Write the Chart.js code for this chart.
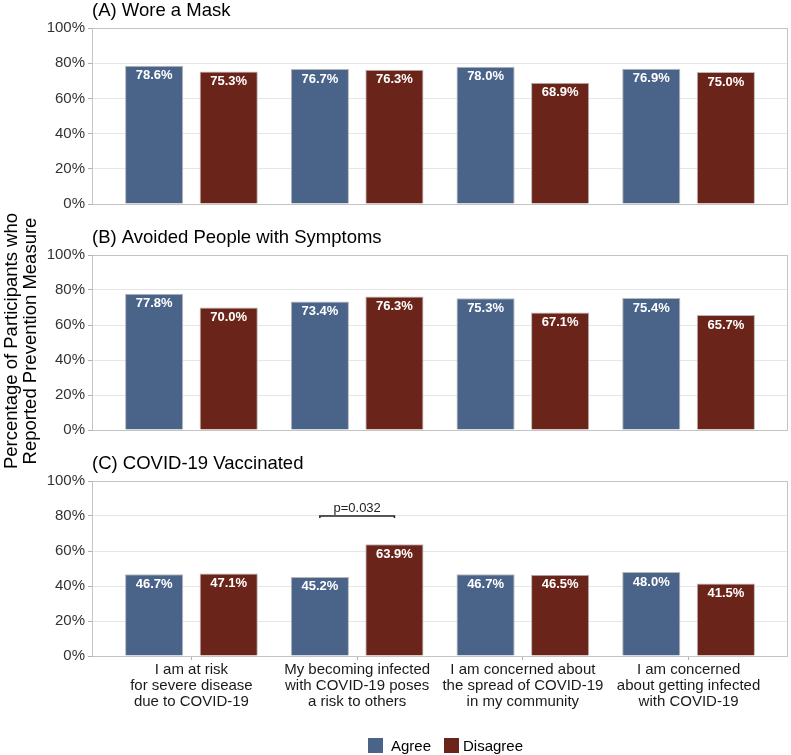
<!DOCTYPE html>
<html>
<head>
<meta charset="utf-8">
<script src="https://cdn.jsdelivr.net/npm/chart.js@4.4.0/dist/chart.umd.min.js"></script>
<style>
  body { margin: 0; background: #fff; font-family: "Liberation Sans", Arial, sans-serif; }
  #wrap { position: relative; width: 791px; height: 755px; overflow: hidden; }
  #wrap canvas { position: absolute; left: 0; }
  #ytitle {
    position: absolute; left: -180px; top: 322px; width: 400px; height: 38px;
    line-height: 19px; font-size: 18.5px; text-align: center; color: #000;
    transform: rotate(-90deg);
  }
  .key { position: absolute; top: 738px; width: 15px; height: 15px; }
  .keytext { position: absolute; top: 737px; font-size: 15px; line-height: 17px; color: #000; }
</style>
</head>
<body>
<div id="wrap">
  <canvas id="panelA" width="791" height="210" style="top:0px"></canvas>
  <canvas id="panelB" width="791" height="209" style="top:227px"></canvas>
  <canvas id="panelC" width="791" height="303" style="top:452px"></canvas>
  <div id="ytitle">Percentage of Participants who<br>Reported Prevention Measure</div>
  <div class="key" style="left:368px;background:#4a6389"></div>
  <div class="keytext" style="left:391px">Agree</div>
  <div class="key" style="left:444px;background:#6b2419"></div>
  <div class="keytext" style="left:463px">Disagree</div>
</div>
<script>
const categories = [
  ['I am at risk', 'for severe disease', 'due to COVID-19'],
  ['My becoming infected', 'with COVID-19 poses', 'a risk to others'],
  ['I am concerned about', 'the spread of COVID-19', 'in my community'],
  ['I am concerned', 'about getting infected', 'with COVID-19']
];
const seriesNames = ['Agree', 'Disagree'];
const seriesColors = ['#4a6389', '#6b2419'];
const panelTitles = ['(A) Wore a Mask', '(B) Avoided People with Symptoms', '(C) COVID-19 Vaccinated'];

const maskAgree = [78.6, 76.7, 78.0, 76.9];
const maskDisagree = [75.3, 76.3, 68.9, 75.0];
const avoidAgree = [77.8, 73.4, 75.3, 75.4];
const avoidDisagree = [70.0, 76.3, 67.1, 65.7];
const vaccAgree = [46.7, 45.2, 46.7, 48.0];
const vaccDisagree = [47.1, 63.9, 46.5, 41.5];

const yTicks = [0, 20, 40, 60, 80, 100];
const pValueText = 'p=0.032';
const pValueCategory = 1;
const pValueLevel = 80;

const FONT = '"Liberation Sans", Arial, sans-serif';

// frame, panel title, bar labels, p-value bracket
const panelDecor = {
  id: 'panelDecor',
  afterDatasetsDraw(chart, args, opts) {
    const ctx = chart.ctx;
    const a = chart.chartArea;
    ctx.save();
    ctx.strokeStyle = '#c4c4c4';
    ctx.lineWidth = 1;
    ctx.strokeRect(Math.round(a.left) + 0.5, Math.round(a.top) + 0.5,
      Math.round(a.right - a.left) - 1, Math.round(a.bottom - a.top));

    ctx.fillStyle = '#000';
    ctx.font = '18.5px ' + FONT;
    ctx.textAlign = 'left';
    ctx.textBaseline = 'alphabetic';
    ctx.fillText(opts.title, a.left, a.top - 12);

    ctx.font = 'bold 13px ' + FONT;
    ctx.fillStyle = '#fff';
    ctx.textAlign = 'center';
    ctx.textBaseline = 'middle';
    chart.data.datasets.forEach((ds, di) => {
      chart.getDatasetMeta(di).data.forEach((bar, i) => {
        ctx.fillText(ds.data[i].y.toFixed(1) + '%', bar.x, bar.y + 10);
      });
    });

    if (opts.pvalue) {
      const x1 = chart.getDatasetMeta(0).data[pValueCategory].x;
      const x2 = chart.getDatasetMeta(1).data[pValueCategory].x;
      const y = chart.scales.y.getPixelForValue(pValueLevel);
      ctx.strokeStyle = '#222';
      ctx.lineWidth = 1.5;
      ctx.beginPath();
      ctx.moveTo(x1, y + 2);
      ctx.lineTo(x1, y);
      ctx.lineTo(x2, y);
      ctx.lineTo(x2, y + 2);
      ctx.stroke();
      ctx.fillStyle = '#222';
      ctx.font = '13px ' + FONT;
      ctx.textBaseline = 'alphabetic';
      ctx.fillText(pValueText, (x1 + x2) / 2, y - 4);
    }
    ctx.restore();
  }
};

function makePanel(id, title, agree, disagree, showX, pvalue, padTop, padBottom) {
  const values = [agree, disagree];
  new Chart(document.getElementById(id), {
    type: 'bar',
    data: {
      datasets: seriesNames.map((name, s) => ({
        label: name,
        data: values[s].map((v, i) => ({ x: i, y: v })),
        backgroundColor: seriesColors[s],
        borderColor: '#b8b8b8',
        borderWidth: 1,
        categoryPercentage: 0.9,
        barPercentage: 0.78
      }))
    },
    options: {
      responsive: false,
      animation: false,
      devicePixelRatio: 1,
      layout: { padding: { top: padTop, bottom: padBottom, left: 0, right: 3 } },
      plugins: {
        legend: { display: false },
        tooltip: { enabled: false },
        panelDecor: { title: title, pvalue: pvalue }
      },
      scales: {
        x: {
          type: 'linear',
          min: -0.6,
          max: 3.6,
          offset: false,
          afterBuildTicks: s => { s.ticks = categories.map((c, i) => ({ value: i })); },
          afterFit: s => { s.height = showX ? 60 : 0; s.paddingLeft = 0; s.paddingRight = 0; },
          grid: { display: showX, drawOnChartArea: false, offset: false, tickLength: 4, tickColor: '#b0b0b0' },
          border: { display: false },
          ticks: {
            display: showX,
            autoSkip: false,
            maxRotation: 0,
            padding: 2,
            color: '#1a1a1a',
            font: { family: FONT, size: 15, lineHeight: 1.07 },
            callback: v => categories[v]
          }
        },
        y: {
          min: 0,
          max: 100,
          afterBuildTicks: s => { s.ticks = yTicks.map(v => ({ value: v })); },
          afterFit: s => { s.width = 92; s.paddingTop = 0; s.paddingBottom = 0; },
          grid: { color: '#e6e6e6', tickLength: 4, tickColor: '#b0b0b0' },
          border: { display: false },
          ticks: {
            padding: 3,
            color: '#333',
            font: { family: FONT, size: 15 },
            callback: v => v + '%'
          }
        }
      }
    },
    plugins: [panelDecor]
  });
}

makePanel('panelA', panelTitles[0], maskAgree, maskDisagree, false, false, 28, 6);
makePanel('panelB', panelTitles[1], avoidAgree, avoidDisagree, false, false, 28, 6);
makePanel('panelC', panelTitles[2], vaccAgree, vaccDisagree, true, true, 29, 39);
</script>
</body>
</html>
